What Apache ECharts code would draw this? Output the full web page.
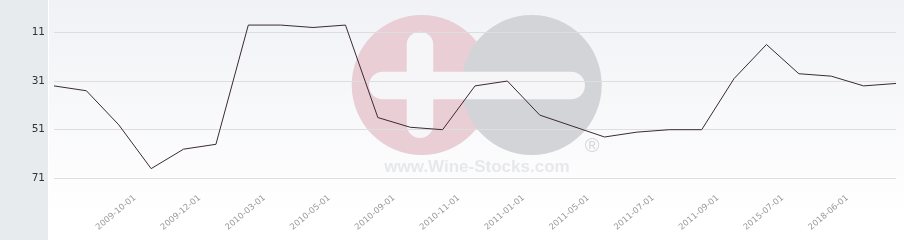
<!DOCTYPE html>
<html>
<head>
<meta charset="utf-8">
<script src="https://cdn.jsdelivr.net/npm/echarts@6/dist/echarts.min.js"></script>
<style>
html,body{margin:0;padding:0;background:#fff;}
#c{width:904px;height:240px;}
</style>
</head>
<body>
<div id="c"></div>
<script>
// Rank values (inverted axis), one per point
const rankValues = [33, 35, 49, 67, 59, 57, 8, 8, 9, 8, 46, 50, 51, 33, 31, 45, 49.5, 54, 52, 51, 51, 30, 16, 28, 29, 33, 32];
// X tick labels (shown between points, every second step)
const xLabels = ['2009-10-01', '2009-12-01', '2010-03-01', '2010-05-01', '2010-09-01', '2010-11-01',
                 '2011-01-01', '2011-05-01', '2011-07-01', '2011-09-01', '2015-07-01', '2018-06-01'];
// Y tick labels
const yTicks = [11, 31, 51, 71];

const seriesData = rankValues.map((v, i) => [i, v]);
const xLabelPos = xLabels.map((_, k) => 2.5 + 2 * k);

const chart = echarts.init(document.getElementById('c'), null, {renderer: 'canvas'});
chart.setOption({
  animation: false,
  backgroundColor: '#ffffff',
  grid: {left: 54, right: 8, top: 0, bottom: 48.25, containLabel: false},
  graphic: [
    {type: 'rect', z: -20, silent: true, shape: {x: 0, y: 0, width: 48, height: 240}, style: {fill: '#e8ebee'}},
    {type: 'rect', z: -20, silent: true, shape: {x: 49, y: 0, width: 855, height: 240},
      style: {fill: new echarts.graphic.LinearGradient(0, 0, 0, 1, [
        {offset: 0, color: '#f1f2f6'}, {offset: 0.9, color: '#ffffff'}, {offset: 1, color: '#ffffff'}])}},
    {type: 'circle', z: -10, silent: true, shape: {cx: 421.7, cy: 85, r: 70}, style: {fill: '#e9ced5'}},
    {type: 'circle', z: -9, silent: true, shape: {cx: 531.7, cy: 85, r: 70}, style: {fill: '#d3d4d7'}},
    {type: 'rect', z: -8, silent: true, shape: {x: 369, y: 71.7, width: 216, height: 27.6, r: 13.8}, style: {fill: '#f6f6f9'}},
    {type: 'rect', z: -8, silent: true, shape: {x: 406.7, y: 31.7, width: 26.6, height: 106.3, r: 13.3}, style: {fill: '#f6f6f9'}},
    {type: 'text', z: -7, silent: true, x: 477, y: 167,
      style: {text: 'www.Wine-Stocks.com', fill: '#e7e8eb', font: 'bold 17px "Liberation Sans", Arial, sans-serif',
              align: 'center', verticalAlign: 'middle'}},
    {type: 'text', z: -7, silent: true, x: 592, y: 146,
      style: {text: '®', fill: '#d6d7da', font: '20px "Liberation Sans", Arial, sans-serif',
              align: 'center', verticalAlign: 'middle'}}
  ],
  xAxis: {
    type: 'value', min: 0, max: rankValues.length - 1,
    axisLine: {show: false},
    axisTick: {show: false, customValues: xLabelPos},
    splitLine: {show: false},
    axisLabel: {
      customValues: xLabelPos,
      rotate: 40, margin: 5,
      color: '#999999', fontSize: 8.5, fontFamily: '"DejaVu Sans", sans-serif',
      formatter: function (v) { return xLabels[Math.round((v - 2.5) / 2)] || ''; }
    }
  },
  yAxis: {
    type: 'value', inverse: true, min: -2.3, max: 76.5,
    axisLine: {show: false},
    axisTick: {show: false, customValues: yTicks},
    splitLine: {show: true, lineStyle: {color: '#dedede', width: 1}},
    axisLabel: {
      customValues: yTicks, margin: 9,
      color: '#333333', fontSize: 10.5, fontFamily: '"DejaVu Sans", sans-serif'
    }
  },
  series: [{
    type: 'line', data: seriesData, showSymbol: false, symbol: 'none',
    lineStyle: {color: '#3b2a33', width: 1}, clip: false, z: 5
  }]
});
</script>
</body>
</html>
